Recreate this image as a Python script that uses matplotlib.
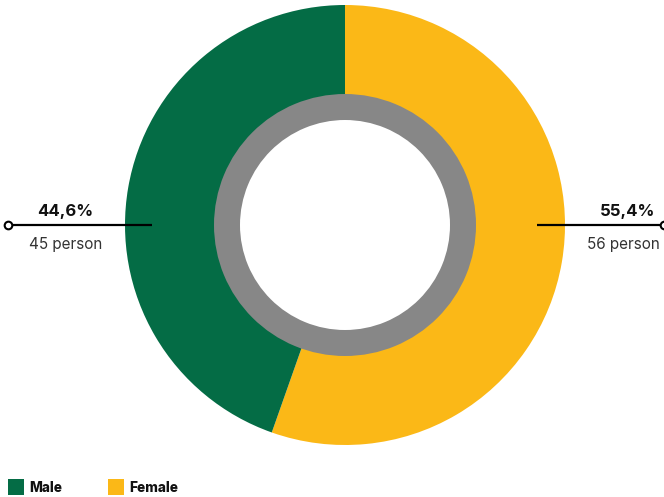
import matplotlib
matplotlib.use("Agg")
import matplotlib.pyplot as plt
from matplotlib.patches import Rectangle

categories = ["Male", "Female"]
percents = [44.6, 55.4]
persons = [45, 56]
colors = ["#046C45", "#FBB817"]
pct_labels = ["44,6%", "55,4%"]
person_labels = ["45 person", "56 person"]

W, H = 664, 497
fig = plt.figure(figsize=(W / 100, H / 100), dpi=100)
ax = fig.add_axes([0, 0, 1, 1])

cx, cy = 345, H - 225
R = 220
ax.pie(percents[::-1], colors=colors[::-1], startangle=90, counterclock=False,
       center=(cx, cy), radius=R, wedgeprops=dict(linewidth=0))
ax.pie([1], colors=["#878787"], center=(cx, cy), radius=131,
       wedgeprops=dict(linewidth=0))
ax.pie([1], colors=["white"], center=(cx, cy), radius=105,
       wedgeprops=dict(linewidth=0))
ax.set_xlim(0, W)
ax.set_ylim(0, H)
ax.set_aspect("equal")
ax.axis("off")

font = "Inter"
ly = H - 225
# left annotation
ax.plot([8, 152], [ly, ly], color="black", lw=1.6, solid_capstyle="butt")
ax.plot([8], [ly], marker="o", ms=5.5, mfc="white", mec="black", mew=1.5)
ax.text(37, H - 216, pct_labels[0], fontsize=12, fontweight="bold",
        family=font, ha="left", va="baseline", color="#111111")
ax.text(29, H - 249, person_labels[0], fontsize=11, family=font,
        ha="left", va="baseline", color="#333333")
# right annotation
ax.plot([537, 664], [ly, ly], color="black", lw=1.6, solid_capstyle="butt")
ax.plot([664], [ly], marker="o", ms=5.5, mfc="white", mec="black", mew=1.5, clip_on=False)
ax.text(655, H - 216, pct_labels[1], fontsize=12, fontweight="bold",
        family=font, ha="right", va="baseline", color="#111111")
ax.text(660, H - 249, person_labels[1], fontsize=11, family=font,
        ha="right", va="baseline", color="#333333")

# legend
for i, (cat, col) in enumerate(zip(categories, colors)):
    x0 = 8 + i * 100
    ax.add_patch(Rectangle((x0, H - 495), 16, 16, color=col, lw=0))
    ax.text(x0 + 21, H - 487.5, cat, fontsize=9.8, fontweight="heavy",
            family=font, ha="left", va="center", color="#111111")

fig.savefig("out.png", dpi=100)
